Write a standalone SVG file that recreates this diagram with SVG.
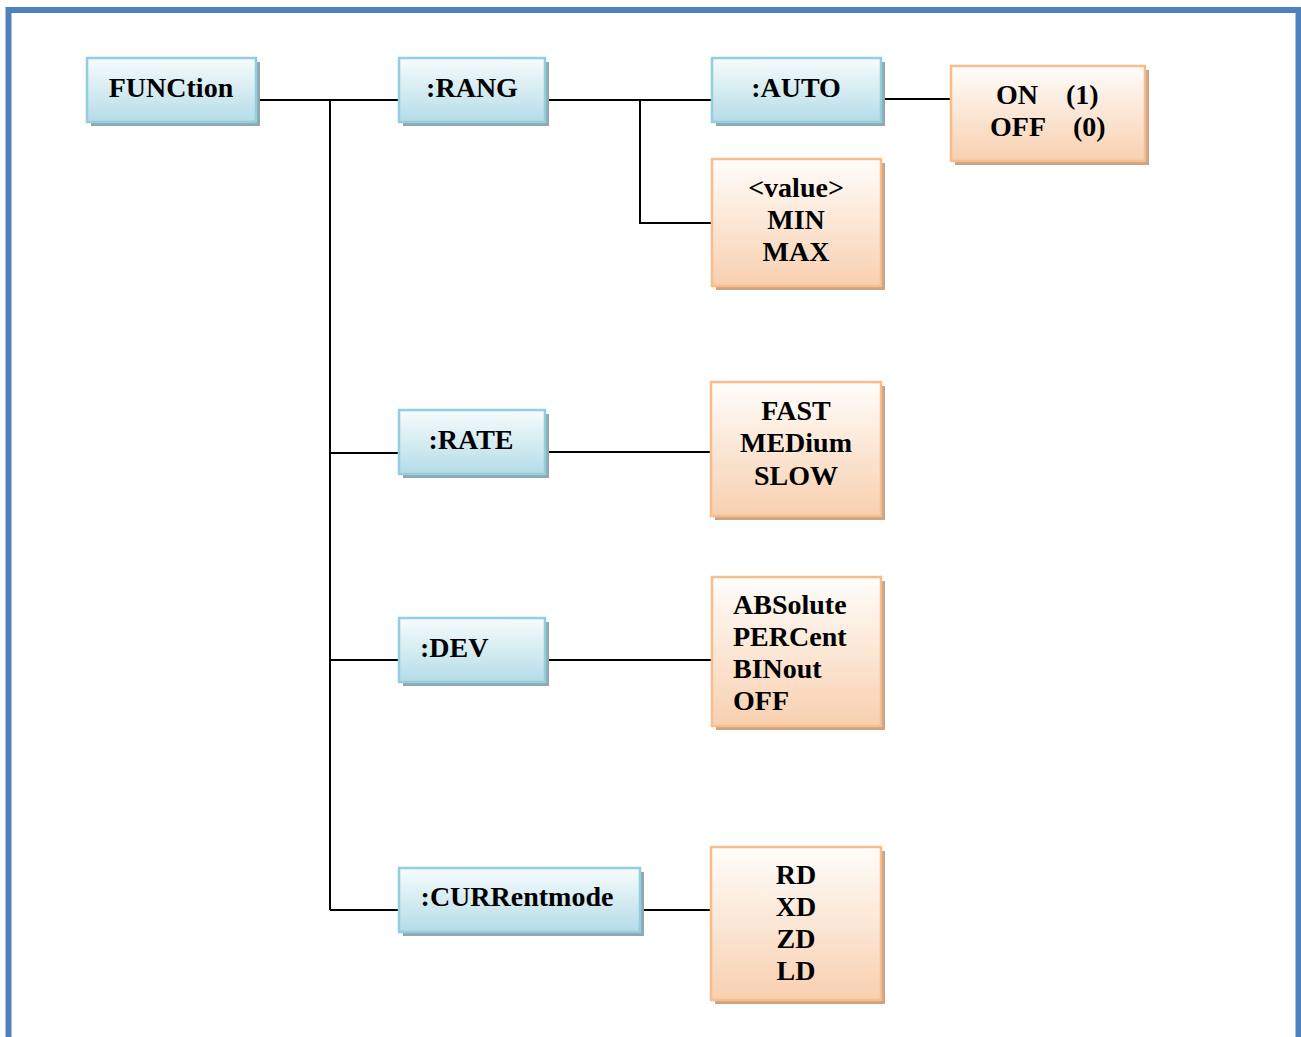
<svg xmlns="http://www.w3.org/2000/svg" width="1301" height="1037" viewBox="0 0 1301 1037">
<defs>
<linearGradient id="gb" x1="0" y1="0" x2="0" y2="1">
<stop offset="0" stop-color="#f7fcfd"/>
<stop offset="1" stop-color="#b5dce7"/>
</linearGradient>
<linearGradient id="go" x1="0" y1="0" x2="0" y2="1">
<stop offset="0" stop-color="#fffdfb"/>
<stop offset="1" stop-color="#f8d0b0"/>
</linearGradient>
</defs>
<style>
.bs{fill:#8fa9b1}
.bb{fill:url(#gb);stroke:#92cfdd;stroke-width:2.5}
.os{fill:#cda385}
.ob{fill:url(#go);stroke:#f8bd8d;stroke-width:2.5}
text{font-family:"Liberation Serif","Times New Roman",serif;font-weight:bold;font-size:28px;fill:#000}
.c{text-anchor:middle}
.ln{stroke:#000;stroke-width:2;fill:none}
</style>
<rect x="0" y="0" width="1301" height="1037" fill="#fff"/>
<path d="M8.5 1040 V10 H1298.5 V1040" fill="none" stroke="#4f81bd" stroke-width="6"/>
<g id="connectors">
<path class="ln" d="M256 100 H399"/>
<path class="ln" d="M330 100 V910"/>
<path class="ln" d="M330 453 H399"/>
<path class="ln" d="M330 660 H399"/>
<path class="ln" d="M330 910 H399"/>
<path class="ln" d="M545 100 H712"/>
<path class="ln" d="M640 100 V223 H712"/>
<path class="ln" d="M881 99 H951"/>
<path class="ln" d="M545 452 H711"/>
<path class="ln" d="M545 660 H712"/>
<path class="ln" d="M640 910 H711"/>
</g>
<g id="n-function">
<rect class="bs" x="91" y="62" width="169" height="64"/>
<rect class="bb" x="87" y="58" width="169" height="64"/>
<text class="c" x="171" y="97">FUNCtion</text>
</g>
<g id="n-rang">
<rect class="bs" x="403" y="62" width="146" height="64"/>
<rect class="bb" x="399" y="58" width="146" height="64"/>
<text class="c" x="472" y="97">:RANG</text>
</g>
<g id="n-auto">
<rect class="bs" x="716" y="62" width="169" height="64"/>
<rect class="bb" x="712" y="58" width="169" height="64"/>
<text class="c" x="796" y="97">:AUTO</text>
</g>
<g id="n-onoff">
<rect class="os" x="955" y="70" width="194" height="95"/>
<rect class="ob" x="951" y="66" width="194" height="95"/>
<text x="996" y="104">ON</text><text x="1066" y="104">(1)</text>
<text x="990" y="136">OFF</text><text x="1073" y="136">(0)</text>
</g>
<g id="n-value">
<rect class="os" x="716" y="163" width="169" height="127"/>
<rect class="ob" x="712" y="159" width="169" height="127"/>
<text class="c" x="796" y="197">&lt;value&gt;</text>
<text class="c" x="796" y="229">MIN</text>
<text class="c" x="796" y="261">MAX</text>
</g>
<g id="n-rate">
<rect class="bs" x="403" y="414" width="146" height="64"/>
<rect class="bb" x="399" y="410" width="146" height="64"/>
<text class="c" x="471" y="449">:RATE</text>
</g>
<g id="n-speed">
<rect class="os" x="715" y="386" width="170" height="134"/>
<rect class="ob" x="711" y="382" width="170" height="134"/>
<text class="c" x="796" y="420">FAST</text>
<text class="c" x="796" y="452">MEDium</text>
<text class="c" x="796" y="485">SLOW</text>
</g>
<g id="n-dev">
<rect class="bs" x="403" y="622" width="146" height="64"/>
<rect class="bb" x="399" y="618" width="146" height="64"/>
<text x="420" y="657">:DEV</text>
</g>
<g id="n-devopts">
<rect class="os" x="716" y="581" width="169" height="149"/>
<rect class="ob" x="712" y="577" width="169" height="149"/>
<text x="733" y="614">ABSolute</text>
<text x="733" y="646">PERCent</text>
<text x="733" y="678">BINout</text>
<text x="733" y="710">OFF</text>
</g>
<g id="n-curr">
<rect class="bs" x="403" y="872" width="241" height="64"/>
<rect class="bb" x="399" y="868" width="241" height="64"/>
<text class="c" x="517" y="906">:CURRentmode</text>
</g>
<g id="n-curropts">
<rect class="os" x="715" y="851" width="170" height="153"/>
<rect class="ob" x="711" y="847" width="170" height="153"/>
<text class="c" x="796" y="884">RD</text>
<text class="c" x="796" y="916">XD</text>
<text class="c" x="796" y="948">ZD</text>
<text class="c" x="796" y="980">LD</text>
</g>
</svg>
